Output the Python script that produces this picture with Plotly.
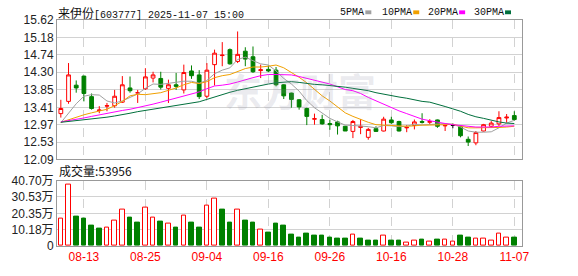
import plotly.graph_objects as go

# ---------------- data ----------------
dates = ["08-08", "08-11", "08-12", "08-13", "08-14", "08-15", "08-18", "08-19", "08-20", "08-21",
         "08-22", "08-25", "08-26", "08-27", "08-28", "08-29", "09-01", "09-02", "09-03", "09-04",
         "09-05", "09-08", "09-09", "09-10", "09-11", "09-12", "09-15", "09-16", "09-17", "09-18",
         "09-19", "09-22", "09-23", "09-24", "09-25", "09-26", "09-29", "09-30", "10-09", "10-10",
         "10-13", "10-14", "10-15", "10-16", "10-17", "10-20", "10-21", "10-22", "10-23", "10-24",
         "10-27", "10-28", "10-29", "10-30", "10-31", "11-03", "11-04", "11-05", "11-06", "11-07"]

opens = [13.25, 13.56, 13.97, 14.20, 13.68, 13.33, 13.44, 13.45, 13.54, 13.90,
         13.77, 13.88, 14.15, 14.14, 13.89, 13.98, 13.85, 14.33, 14.23, 13.69,
         14.49, 14.72, 14.87, 14.57, 14.83, 14.69, 14.34, 14.37, 14.35, 13.98,
         13.77, 13.60, 13.38, 13.11, 13.10, 13.00, 13.04, 12.93, 12.80, 12.90,
         12.65, 12.87, 12.81, 13.09, 13.05, 12.89, 12.95, 13.05, 13.03, 13.09,
         12.94, 12.95, 12.93, 12.60, 12.51, 12.81, 12.93, 12.99, 13.14, 13.20]
highs = [13.60, 14.53, 14.09, 14.21, 13.76, 13.44, 13.52, 13.85, 14.20, 14.19,
         13.85, 14.40, 14.31, 14.31, 14.11, 14.28, 14.49, 14.47, 14.35, 14.53,
         14.87, 15.06, 14.90, 15.33, 14.93, 14.95, 14.49, 14.47, 14.43, 14.00,
         13.78, 13.62, 13.40, 13.25, 13.22, 13.10, 13.07, 12.94, 13.09, 13.11,
         12.89, 12.93, 13.17, 13.17, 13.07, 12.96, 13.10, 13.26, 13.11, 13.10,
         12.97, 13.00, 12.95, 12.67, 12.81, 12.99, 13.06, 13.31, 13.24, 13.31]
lows = [13.15, 13.50, 13.78, 13.56, 13.35, 13.26, 13.31, 13.40, 13.52, 13.78,
        13.52, 13.85, 14.04, 13.86, 13.52, 13.85, 13.76, 14.13, 13.62, 13.64,
        13.96, 14.45, 14.49, 14.53, 14.45, 14.28, 14.15, 14.30, 13.94, 13.62,
        13.40, 13.35, 12.96, 12.97, 12.97, 12.84, 12.72, 12.81, 12.63, 12.73,
        12.59, 12.79, 12.80, 12.99, 12.80, 12.78, 12.85, 13.00, 12.97, 12.89,
        12.81, 12.88, 12.65, 12.43, 12.45, 12.80, 12.89, 12.93, 13.02, 13.07]
closes = [13.38, 14.23, 13.90, 13.76, 13.38, 13.34, 13.45, 13.69, 13.98, 13.83,
          13.78, 14.18, 14.23, 13.92, 13.98, 13.94, 14.29, 14.21, 13.68, 14.35,
          14.78, 14.73, 14.51, 14.75, 14.63, 14.31, 14.36, 14.33, 13.98, 13.70,
          13.61, 13.42, 13.18, 13.12, 12.99, 12.97, 12.94, 12.81, 13.05, 12.93,
          12.85, 12.80, 13.11, 13.02, 12.81, 12.90, 13.04, 13.03, 13.05, 12.93,
          12.95, 12.95, 12.69, 12.53, 12.77, 12.97, 13.01, 13.15, 13.16, 13.10]
volumes = [172700, 381000, 184600, 172700, 125000, 107200, 117100, 158800, 228300, 176700,
           142900, 236200, 176700, 148900, 140900, 117100, 188600, 142900, 113100, 254100,
           295800, 226300, 142900, 228300, 158800, 142900, 99300, 83400, 139000, 125100,
           69500, 53600, 79400, 65500, 65500, 53600, 45700, 45700, 69500, 45700,
           35700, 35700, 65500, 35700, 35700, 21800, 33700, 39700, 27800, 39700,
           39700, 27800, 65500, 53600, 45700, 45700, 33700, 75400, 53600, 53956]

ma5 = [13.02, 13.26, 13.50, 13.69, 13.73, 13.72, 13.57, 13.52, 13.57, 13.66,
       13.75, 13.89, 14.00, 13.99, 14.02, 14.05, 14.07, 14.07, 14.02, 14.09,
       14.26, 14.35, 14.41, 14.62, 14.68, 14.59, 14.51, 14.48, 14.33, 14.14,
       14.00, 13.82, 13.58, 13.40, 13.26, 13.13, 13.04, 12.96, 12.95, 12.94,
       12.92, 12.89, 12.95, 12.94, 12.92, 12.93, 12.98, 12.96, 12.97, 12.99,
       13.00, 12.98, 12.91, 12.81, 12.78, 12.78, 12.79, 12.89, 13.01, 13.08]
ma10 = [13.03, 13.10, 13.17, 13.22, 13.27, 13.31, 13.36, 13.45, 13.56, 13.70,
        13.74, 13.73, 13.76, 13.78, 13.84, 13.90, 13.98, 14.04, 14.01, 14.06,
        14.16, 14.21, 14.24, 14.32, 14.39, 14.43, 14.43, 14.45, 14.48, 14.41,
        14.30, 14.17, 14.03, 13.87, 13.70, 13.57, 13.43, 13.27, 13.18, 13.10,
        13.03, 12.97, 12.96, 12.95, 12.93, 12.93, 12.94, 12.96, 12.96, 12.96,
        12.97, 12.98, 12.94, 12.89, 12.89, 12.89, 12.89, 12.90, 12.91, 12.93]
ma20 = [13.04, 13.07, 13.11, 13.14, 13.18, 13.22, 13.25, 13.29, 13.33, 13.36,
        13.40, 13.44, 13.49, 13.54, 13.59, 13.64, 13.69, 13.74, 13.80, 13.88,
        13.95, 13.97, 14.00, 14.05, 14.11, 14.16, 14.21, 14.24, 14.24, 14.23,
        14.23, 14.19, 14.14, 14.09, 14.04, 14.00, 13.93, 13.86, 13.83, 13.76,
        13.66, 13.57, 13.49, 13.41, 13.32, 13.25, 13.18, 13.11, 13.07, 13.03,
        13.00, 12.97, 12.95, 12.92, 12.91, 12.91, 12.91, 12.93, 12.93, 12.94]
ma30 = [13.03, 13.05, 13.07, 13.09, 13.11, 13.13, 13.16, 13.19, 13.22, 13.26,
        13.30, 13.33, 13.36, 13.39, 13.42, 13.45, 13.48, 13.51, 13.55, 13.61,
        13.67, 13.74, 13.79, 13.84, 13.88, 13.93, 13.96, 14.00, 14.03, 14.05,
        14.06, 14.04, 14.01, 13.99, 13.98, 13.96, 13.95, 13.92, 13.89, 13.86,
        13.83, 13.78, 13.74, 13.71, 13.67, 13.64, 13.60, 13.56, 13.54, 13.49,
        13.43, 13.37, 13.31, 13.23, 13.17, 13.13, 13.08, 13.04, 13.01, 13.00]

price_tick_labels = ["12.09", "12.53", "12.97", "13.41", "13.85", "14.30", "14.74", "15.18", "15.62"]
vol_tick_values = [0, 101750, 203500, 305250, 407000]
vol_tick_labels = ["0", "10.18万", "20.35万", "30.53万", "40.70万"]
x_tick_labels = ["08-13", "08-25", "09-04", "09-16", "09-26", "10-16", "10-28", "11-07"]

stock_name = "来伊份"
stock_info = "[603777] 2025-11-07 15:00"
volume_caption = "成交量:" + str(volumes[-1])
ma_names = ["5PMA", "10PMA", "20PMA", "30PMA"]

# ---------------- styling ----------------
W, H = 578, 276
ML, MR, MT, MB = 56, 56, 20, 21
PW, PH = W - ML - MR, H - MT - MB
RED, GREEN, BLACK = "#ff0000", "#008000", "#000000"
MA_COLORS = ["#a0a0a0", "#f0a000", "#ff00ff", "#006f3c"]
GRID = "#d2d2d2"
BORDER = "#999999"


def pxx(x):
    return (x - ML) / PW


def pxy(y):
    return (H - MB - y) / PH


n = len(dates)
idx = list(range(n))
fig = go.Figure()

groups = [
    ([i for i in idx if closes[i] > opens[i]], RED, "white"),
    ([i for i in idx if closes[i] < opens[i]], GREEN, GREEN),
    ([i for i in idx if closes[i] == opens[i]], BLACK, BLACK),
]
for sel, lc, fc in groups:
    if not sel:
        continue
    style = dict(line=dict(color=lc, width=1), fillcolor=fc)
    fig.add_trace(go.Candlestick(
        x=sel, open=[opens[i] for i in sel], high=[highs[i] for i in sel],
        low=[lows[i] for i in sel], close=[closes[i] for i in sel],
        increasing=style, decreasing=style, whiskerwidth=0,
        xaxis="x", yaxis="y", hoverinfo="skip"))

for ys, col in zip([ma5, ma10, ma20, ma30], MA_COLORS):
    fig.add_trace(go.Scatter(x=idx, y=ys, mode="lines", line=dict(color=col, width=1),
                             xaxis="x", yaxis="y", hoverinfo="skip"))

up = [(closes[i] >= (closes[i - 1] if i > 0 else opens[i])) for i in idx]
fig.add_trace(go.Bar(
    x=idx, y=volumes, width=0.6,
    marker=dict(color=["white" if u else GREEN for u in up],
                line=dict(color=[RED if u else GREEN for u in up], width=1)),
    xaxis="x2", yaxis="y2", hoverinfo="skip"))

tickvals_x = [dates.index(d) for d in x_tick_labels]
axis_common = dict(showline=True, mirror=True, linecolor=BORDER, linewidth=1,
                   zeroline=False, ticks="", fixedrange=True)

price_dom = [pxy(165), 1.0]
vol_dom = [0.0, pxy(187)]

fig.update_layout(
    width=W, height=H, margin=dict(l=ML, r=MR, t=MT, b=MB, pad=0),
    paper_bgcolor="white", plot_bgcolor="white", showlegend=False,
    hovermode=False, bargap=0,
    xaxis=dict(domain=[0, 1], range=[-0.5, 60], tickvals=tickvals_x, showticklabels=False,
               showgrid=True, gridcolor=GRID, griddash="dash", gridwidth=1,
               rangeslider=dict(visible=False), anchor="y", **axis_common),
    yaxis=dict(domain=price_dom, range=[12.09, 15.62],
               tickvals=[float(t) for t in price_tick_labels], ticktext=price_tick_labels,
               showgrid=True, gridcolor=GRID, anchor="x",
               tickfont=dict(family="Liberation Sans", size=12, color="#222222"), **axis_common),
    xaxis2=dict(domain=[0, 1], range=[-0.5, 60], tickvals=tickvals_x, ticktext=x_tick_labels,
                showgrid=True, gridcolor=GRID, griddash="dash", gridwidth=1, anchor="y2",
                tickfont=dict(family="Liberation Sans", size=12, color=RED), **axis_common),
    yaxis2=dict(domain=vol_dom, range=[0, 407000], tickvals=vol_tick_values, ticktext=vol_tick_labels,
                showgrid=True, gridcolor=GRID, anchor="x2",
                tickfont=dict(family="Liberation Sans, Noto Sans CJK SC", size=12, color="#222222"),
                **axis_common),
)

title_html = (stock_name + '<span style="font-family:Liberation Mono;font-size:10px">'
              + stock_info + "</span>")
annotations = [
    dict(text=title_html, x=pxx(55), y=pxy(12), xref="paper", yref="paper",
         xanchor="left", yanchor="middle", showarrow=False,
         font=dict(family="Noto Sans CJK SC", size=12, color="#111111")),
    dict(text=volume_caption, x=pxx(56), y=pxy(177), xref="paper", yref="paper",
         xanchor="left", yanchor="middle", showarrow=False,
         font=dict(family="Noto Sans CJK SC", size=12, color="#111111")),
    dict(text="<b>东方财富</b>", x=pxx(300), y=pxy(92), xref="paper", yref="paper",
         xanchor="center", yanchor="middle", showarrow=False,
         font=dict(family="Noto Sans CJK SC", size=38, color="rgba(150,150,170,0.2)")),
]
shapes = []
legend_x = [338, 380, 426, 472]
for name, col, lx in zip(ma_names, MA_COLORS, legend_x):
    annotations.append(dict(text=name, x=pxx(lx), y=pxy(12), xref="paper", yref="paper",
                            xanchor="left", yanchor="middle", showarrow=False,
                            font=dict(family="Liberation Mono", size=10, color="#111111")))
    sx = lx + len(name) * 6 + 3
    shapes.append(dict(type="rect", xref="paper", yref="paper",
                       x0=pxx(sx), x1=pxx(sx + 6), y0=pxy(14), y1=pxy(10),
                       fillcolor=col, line=dict(width=0)))
fig.update_layout(annotations=annotations, shapes=shapes)

fig.write_html("out.html")
